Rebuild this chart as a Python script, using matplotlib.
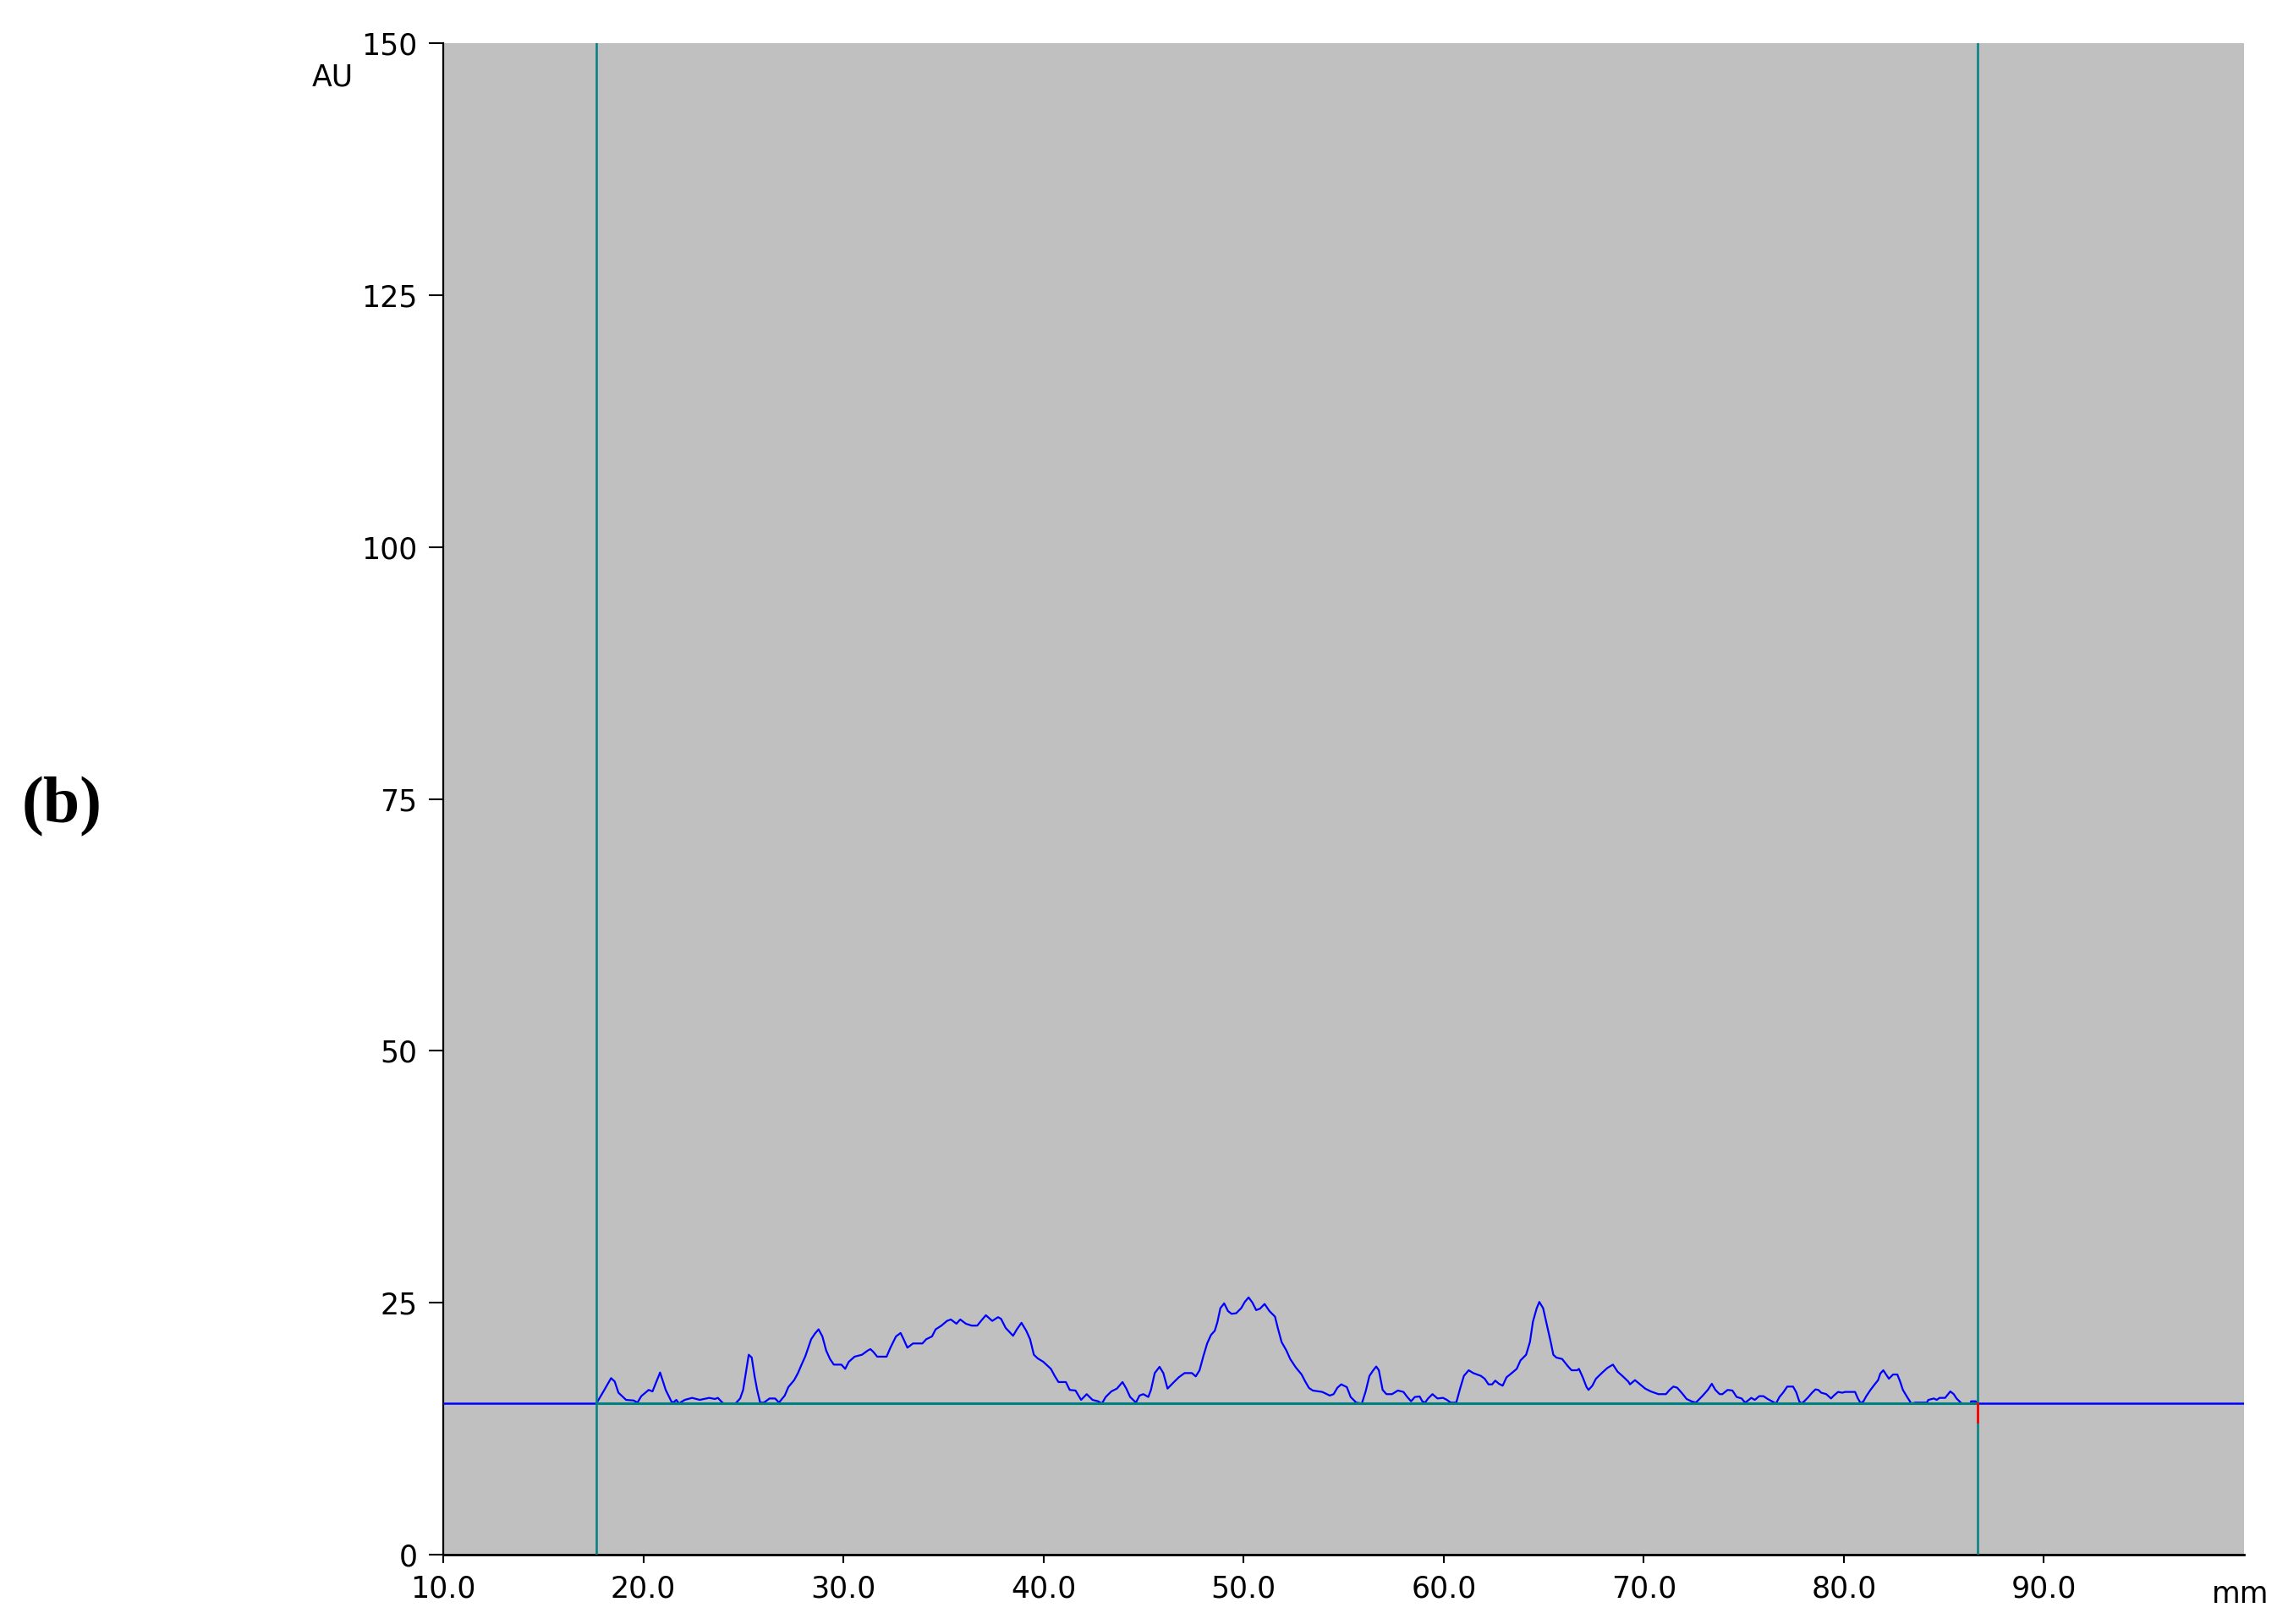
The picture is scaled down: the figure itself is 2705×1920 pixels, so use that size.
import matplotlib
matplotlib.use("Agg")
import matplotlib.pyplot as plt

# ─── Data ─────────────────────────────────────────────────────────────────────

X_RANGE      = (10.0, 100.0)
Y_RANGE      = (0.0, 150.0)
BASELINE_AU  = 15.0
CURSOR_LEFT  = 17.65
CURSOR_RIGHT = 86.67
RED_MARK_LOW = 13.2

x_ticks = [10, 20, 30, 40, 50, 60, 70, 80, 90]
y_ticks = [0, 25, 50, 75, 100, 125, 150]

pos_mm = [
    17.65, 17.76, 18.01, 18.39, 18.57, 18.76, 19.14, 19.52, 19.71, 19.90,
    20.27, 20.46, 20.84, 21.12, 21.40, 21.50, 21.65, 21.78, 22.07, 22.44,
    22.82, 23.29, 23.58, 23.73, 23.95, 24.05, 24.61, 24.84, 24.99, 25.08,
    25.27, 25.42, 25.56, 25.69, 25.84, 26.03, 26.31, 26.59, 26.78, 27.07,
    27.25, 27.54, 27.73, 27.91, 28.10, 28.39, 28.58, 28.76, 28.95, 29.14,
    29.33, 29.52, 29.90, 30.09, 30.27, 30.56, 30.93, 31.22, 31.35, 31.50,
    31.69, 32.16, 32.35, 32.63, 32.86, 33.01, 33.20, 33.48, 33.95, 34.14,
    34.43, 34.61, 34.90, 35.18, 35.37, 35.65, 35.84, 36.12, 36.41, 36.69,
    36.88, 37.12, 37.44, 37.73, 37.88, 38.11, 38.48, 38.67, 38.90, 39.14,
    39.33, 39.52, 39.71, 39.99, 40.37, 40.56, 40.75, 41.12, 41.31, 41.60,
    41.88, 42.16, 42.45, 42.73, 42.92, 43.11, 43.39, 43.67, 43.95, 44.14,
    44.33, 44.62, 44.80, 44.99, 45.24, 45.37, 45.56, 45.80, 45.99, 46.20,
    46.48, 46.76, 47.05, 47.42, 47.61, 47.80, 47.99, 48.18, 48.37, 48.56,
    48.69, 48.84, 49.03, 49.22, 49.40, 49.63, 49.88, 50.06, 50.25, 50.44,
    50.63, 50.82, 51.05, 51.29, 51.57, 51.71, 51.90, 52.14, 52.33, 52.61,
    52.90, 53.08, 53.27, 53.46, 53.93, 54.31, 54.50, 54.69, 54.88, 55.16,
    55.35, 55.63, 55.91, 56.10, 56.29, 56.48, 56.63, 56.76, 56.95, 57.14,
    57.42, 57.71, 57.99, 58.18, 58.37, 58.56, 58.80, 58.93, 59.07, 59.22,
    59.44, 59.69, 59.97, 60.16, 60.35, 60.63, 60.82, 61.01, 61.25, 61.48,
    61.86, 62.05, 62.24, 62.42, 62.58, 62.76, 62.95, 63.14, 63.37, 63.65,
    63.84, 64.12, 64.31, 64.46, 64.65, 64.78, 64.97, 65.16, 65.35, 65.48,
    65.63, 65.92, 66.20, 66.39, 66.67, 66.76, 66.95, 67.14, 67.24, 67.43,
    67.61, 67.90, 68.18, 68.46, 68.69, 68.93, 69.22, 69.31, 69.56, 69.78,
    70.07, 70.35, 70.73, 71.11, 71.29, 71.48, 71.67, 71.95, 72.14, 72.38,
    72.59, 72.67, 72.95, 73.20, 73.40, 73.58, 73.79, 73.93, 74.19, 74.43,
    74.64, 74.89, 75.06, 75.20, 75.37, 75.55, 75.77, 75.98, 76.19, 76.40,
    76.61, 76.78, 76.96, 77.17, 77.46, 77.62, 77.77, 77.88, 78.02, 78.23,
    78.41, 78.58, 78.72, 78.87, 79.12, 79.36, 79.50, 79.71, 79.92, 80.06,
    80.56, 80.70, 80.84, 80.98, 81.12, 81.33, 81.54, 81.71, 81.82, 81.97,
    82.11, 82.25, 82.46, 82.67, 82.81, 82.95, 83.16, 83.30, 83.37, 83.59,
    84.15, 84.22, 84.50, 84.64, 84.78, 85.06, 85.32, 85.49, 85.63, 85.84,
    85.91, 86.33, 86.36, 86.59, 86.67,
]

au = [
    15.00, 15.36, 16.20, 17.52, 17.19, 16.07, 15.36, 15.30, 15.09, 15.73,
    16.35, 16.20, 18.08, 16.35, 15.22, 15.09, 15.36, 15.00, 15.36, 15.56,
    15.36, 15.56, 15.45, 15.56, 15.09, 15.00, 15.00, 15.50, 16.35, 17.46,
    19.84, 19.56, 17.74, 16.35, 15.09, 15.09, 15.50, 15.50, 15.09, 15.79,
    16.63, 17.32, 18.02, 18.86, 19.70, 21.38, 21.94, 22.36, 21.66, 20.26,
    19.42, 18.86, 18.86, 18.44, 19.14, 19.65, 19.84, 20.26, 20.40, 20.12,
    19.65, 19.65, 20.54, 21.66, 22.00, 21.38, 20.54, 20.96, 20.96, 21.38,
    21.66, 22.36, 22.73, 23.20, 23.34, 22.92, 23.34, 22.92, 22.73, 22.73,
    23.20, 23.76, 23.20, 23.57, 23.40, 22.50, 21.72, 22.36, 23.01, 22.22,
    21.38, 19.84, 19.48, 19.14, 18.44, 17.74, 17.13, 17.13, 16.35, 16.29,
    15.36, 15.93, 15.36, 15.22, 15.00, 15.65, 16.20, 16.48, 17.13, 16.48,
    15.65, 15.09, 15.79, 15.93, 15.65, 16.35, 18.02, 18.64, 18.02, 16.48,
    17.05, 17.60, 18.02, 18.02, 17.69, 18.30, 19.70, 20.96, 21.80, 22.22,
    23.06, 24.46, 24.94, 24.18, 23.90, 23.96, 24.46, 25.08, 25.53, 25.02,
    24.27, 24.41, 24.88, 24.18, 23.62, 22.50, 21.10, 20.26, 19.42, 18.58,
    17.88, 17.19, 16.54, 16.29, 16.15, 15.79, 15.93, 16.57, 16.90, 16.63,
    15.65, 15.09, 15.00, 16.20, 17.74, 18.30, 18.67, 18.30, 16.35, 15.93,
    15.93, 16.29, 16.15, 15.65, 15.22, 15.65, 15.70, 15.22, 15.09, 15.50,
    15.93, 15.50, 15.56, 15.36, 15.09, 15.09, 16.48, 17.74, 18.30, 18.02,
    17.74, 17.46, 16.90, 16.90, 17.27, 16.96, 16.77, 17.60, 17.97, 18.44,
    19.28, 19.84, 21.10, 23.12, 24.46, 25.08, 24.46, 22.78, 21.10, 19.84,
    19.56, 19.42, 18.72, 18.30, 18.30, 18.44, 17.60, 16.63, 16.35, 16.77,
    17.46, 18.02, 18.53, 18.86, 18.16, 17.74, 17.19, 16.90, 17.32, 16.96,
    16.48, 16.20, 15.93, 15.93, 16.35, 16.68, 16.57, 15.93, 15.45, 15.22,
    15.09, 15.22, 15.79, 16.35, 16.96, 16.35, 15.93, 15.93, 16.35, 16.29,
    15.65, 15.50, 15.09, 15.28, 15.56, 15.36, 15.73, 15.73, 15.45, 15.22,
    15.00, 15.65, 16.07, 16.68, 16.68, 16.12, 15.22, 15.00, 15.22, 15.65,
    16.07, 16.40, 16.35, 16.07, 15.93, 15.50, 15.79, 16.15, 16.07, 16.15,
    16.15, 15.50, 15.03, 15.22, 15.73, 16.35, 16.90, 17.32, 17.97, 18.30,
    17.88, 17.46, 17.88, 17.88, 17.19, 16.35, 15.65, 15.22, 15.00, 15.09,
    15.09, 15.36, 15.50, 15.36, 15.56, 15.56, 16.20, 15.93, 15.50, 15.09,
    15.00, 15.00, 15.22, 15.22, 15.00,
]

# ─── Style ────────────────────────────────────────────────────────────────────

BG_GREY = "#c0c0c0"
TRACE   = "#0000ff"
TEAL    = "#008080"
FONT    = "DejaVu Sans"
FS      = 25

fig = plt.figure(figsize=(27.05, 19.20), dpi=100)
ax = fig.add_axes([0.1937, 0.0427, 0.7871, 0.9307])
ax.set_facecolor(BG_GREY)

# trace outside the cursors sits flat on the baseline
ax.plot([X_RANGE[0], CURSOR_LEFT], [BASELINE_AU, BASELINE_AU], color=TRACE, lw=1.8, zorder=3)
ax.plot([CURSOR_RIGHT, X_RANGE[1]], [BASELINE_AU, BASELINE_AU], color=TRACE, lw=1.8, zorder=3)
ax.plot(pos_mm, au, color=TRACE, lw=1.6, zorder=3)

# integration baseline and cursors
ax.plot([CURSOR_LEFT, CURSOR_RIGHT], [BASELINE_AU, BASELINE_AU], color=TEAL, lw=2.2, zorder=4)
ax.axvline(CURSOR_LEFT, color=TEAL, lw=1.8, zorder=4)
ax.axvline(CURSOR_RIGHT, color=TEAL, lw=1.8, zorder=4)
ax.plot([CURSOR_RIGHT, CURSOR_RIGHT], [BASELINE_AU, RED_MARK_LOW], color="red", lw=2.0, zorder=5)

ax.set_xlim(*X_RANGE)
ax.set_ylim(*Y_RANGE)
ax.set_xticks(x_ticks)
ax.set_xticklabels([f"{v:.1f}" for v in x_ticks])
ax.set_yticks(y_ticks)
ax.set_yticklabels([str(v) for v in y_ticks])

for side in ("top", "right"):
    ax.spines[side].set_visible(False)
ax.spines["left"].set_linewidth(1.6)
ax.spines["bottom"].set_linewidth(2.0)

ax.tick_params(axis="x", length=7, width=1.5, pad=10, labelsize=FS)
ax.tick_params(axis="y", length=12, width=1.5, pad=10, labelsize=FS)
for lab in ax.get_xticklabels() + ax.get_yticklabels():
    lab.set_fontfamily(FONT)

fig.text(393 / 2705, 1 - 102 / 1920, "AU", ha="center", va="baseline",
         fontsize=FS, family=FONT)
fig.text(2649 / 2705, 1 - 1895 / 1920, "mm", ha="center", va="baseline",
         fontsize=FS, family=FONT)
fig.text(73 / 2705, 1 - 954 / 1920, "(b)", ha="center", va="center",
         fontsize=56, family="Liberation Serif", fontweight="bold")

fig.savefig("out.png", dpi=100)
